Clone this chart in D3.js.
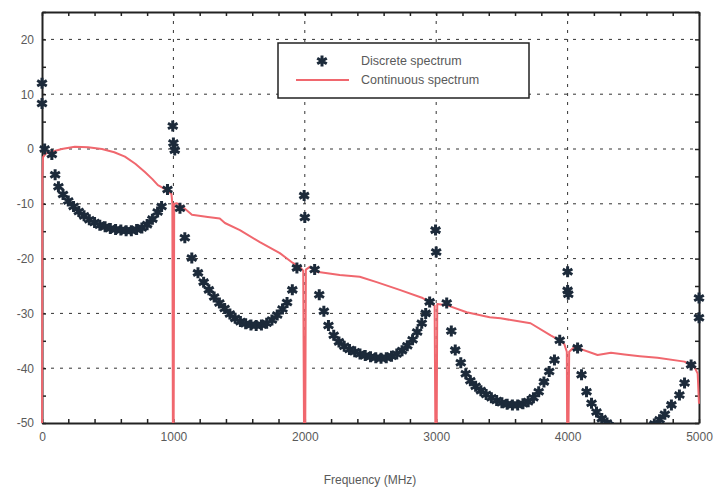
<!DOCTYPE html>
<html>
<head>
<meta charset="utf-8">
<script src="https://cdn.jsdelivr.net/npm/d3@7"></script>
<style>
  body { margin: 0; background: #fff; }
  text { font-family: "Liberation Sans", Arial, sans-serif; }
</style>
</head>
<body>
<div id="chart"></div>
<script>
// discrete spectrum (star markers)
const discreteFreq = [
  0, 0, 20, 75, 100, 125, 160, 200, 240, 280, 320, 360, 400, 440, 480, 520, 560, 600, 640, 680,
  720, 760, 800, 840, 880, 910, 955, 995, 1000, 1010,
  1050, 1087, 1140, 1187, 1230, 1270, 1310, 1350, 1390, 1430, 1470, 1510, 1550, 1590, 1630, 1670,
  1710, 1750, 1790, 1830, 1865, 1905, 1940, 1995, 2000,
  2075, 2110, 2145, 2180, 2220, 2260, 2300, 2340, 2380, 2420, 2460, 2500, 2540, 2580, 2620, 2660,
  2700, 2740, 2780, 2820, 2855, 2890, 2920, 2950, 2995, 3000,
  3080, 3115, 3145, 3187, 3225, 3260, 3300, 3340, 3380, 3420, 3460, 3500, 3540, 3580, 3620, 3660,
  3700, 3740, 3780, 3820, 3860, 3900, 3940, 4000, 4000, 4005,
  4076, 4106, 4144, 4182, 4220, 4260, 4300, 4340, 4380, 4420, 4460, 4500, 4540, 4580, 4620, 4660,
  4700, 4740, 4790, 4851, 4890, 4940, 5000, 5000
];
const discreteLevel = [
  12, 8.3, 0, -1, -4.7, -6.9, -8.3, -9.5, -10.5, -11.4, -12.2, -12.9, -13.4, -13.9, -14.2, -14.5, -14.7, -14.8, -14.9, -14.9,
  -14.7, -14.4, -13.8, -12.8, -11.5, -10.5, -7.4, 4.2, 1.1, -0.2,
  -10.8, -16.2, -19.9, -22.6, -24.3, -25.7, -27, -28.1, -29.1, -30.1, -30.9, -31.5, -31.9, -32.1, -32.2, -32.1,
  -31.8, -31.2, -30.3, -29.2, -28, -25.7, -21.7, -8.5, -12.5,
  -22, -26.6, -29.6, -32.2, -34, -35.2, -36, -36.6, -37, -37.4, -37.7, -37.9, -38.1, -38.2, -38.1, -37.8,
  -37.4, -36.8, -35.9, -34.8, -33.4, -31.8, -30, -27.9, -14.8, -18.8,
  -28.1, -33.2, -36.7, -39, -41, -42.3, -43.3, -44.1, -44.8, -45.4, -45.9, -46.3, -46.6, -46.7, -46.7, -46.5,
  -46.1, -45.4, -44.3, -42.5, -40.6, -38.5, -34.9, -22.4, -25.8, -26.5,
  -36.3, -41.2, -44.3, -46.4, -48, -49.2, -50, -50.8, -51.4, -51.8, -52.1, -52.2, -52, -51.6, -51, -50.2,
  -49.4, -48.4, -46.7, -44.9, -42.7, -39.4, -30.8, -27.2
];

// continuous spectrum (red line)
const contFreq = [
  0, 3, 8, 30, 76, 150, 250, 350, 456, 550, 631, 710, 783, 840, 882, 950, 985, 992, 997, 1001, 1006,
  1027, 1072, 1141, 1262, 1353, 1392, 1506, 1658, 1810, 1909, 1962, 1988, 1996, 2002, 2008,
  2038, 2091, 2266, 2418, 2547, 2722, 2897, 2966, 2988, 2996, 3002, 3008,
  3080, 3232, 3407, 3490, 3718, 3871, 3939, 3975, 3994, 3998, 4003, 4012,
  4053, 4228, 4330, 4433, 4550, 4684, 4890, 4966, 4990, 5000
];
const contLevel = [
  -60, -5, -1.5, -0.8, -0.5, 0, 0.4, 0.3, 0, -0.6, -1.4, -2.7, -4.2, -5.5, -6.6, -7.5, -8.2, -10, -60, -60, -10,
  -9.9, -10.6, -12, -12.4, -12.7, -13.5, -14.8, -17, -19, -20.8, -21.5, -22.2, -60, -60, -22,
  -21.5, -22.4, -23, -23.3, -24.3, -25.7, -27.2, -28.1, -28.6, -60, -60, -28.3,
  -28.5, -29.8, -30.7, -30.9, -31.8, -34, -34.9, -35.6, -37, -60, -60, -37,
  -36.1, -37.6, -37.2, -37.5, -37.8, -38.1, -38.8, -39.8, -41, -46.5
];

const xTicks = d3.range(0, 5001, 200);
const yTicks = d3.range(-50, 26, 5);
const xGrid = [1000, 2000, 3000, 4000];
const yGrid = [-40, -30, -20, -10, 0, 10, 20];
const legendLabels = ["Discrete spectrum", "Continuous spectrum"];

const W = 718, H = 491;
const margin = { top: 12, right: 19, bottom: 68, left: 42 };
const width = W - margin.left - margin.right;
const height = H - margin.top - margin.bottom;

const svg = d3.select("#chart").append("svg")
  .attr("width", W)
  .attr("height", H);

const g = svg.append("g")
  .attr("transform", `translate(${margin.left},${margin.top})`);

const x = d3.scaleLinear().domain([0, 5000]).range([0, width]);
const y = d3.scaleLinear().domain([-50, 25]).range([height, 0]);

// clip so that values below -50 are hidden
svg.append("defs").append("clipPath").attr("id", "plotclip")
  .append("rect")
  .attr("x", -10).attr("y", 0)
  .attr("width", width + 20).attr("height", height);

// grid
g.append("g").selectAll("line").data(xGrid).enter().append("line")
  .attr("x1", d => x(d)).attr("x2", d => x(d))
  .attr("y1", 0).attr("y2", height)
  .attr("stroke", "#333").attr("stroke-width", 1)
  .attr("stroke-dasharray", "3,6");
g.append("g").selectAll("line").data(yGrid).enter().append("line")
  .attr("x1", 0).attr("x2", width)
  .attr("y1", d => y(d)).attr("y2", d => y(d))
  .attr("stroke", "#333").attr("stroke-width", 1)
  .attr("stroke-dasharray", "3,6");

// axes with inward ticks
function styleAxis(sel) {
  sel.select(".domain").attr("stroke", "#222").attr("stroke-width", 2);
  sel.selectAll(".tick line").attr("stroke", "#222").attr("stroke-width", 1.5);
  sel.selectAll("text").attr("fill", "#5a5a5a").style("font-size", "12px");
}

g.append("g").attr("transform", `translate(0,${height})`)
  .call(d3.axisBottom(x).tickValues(xTicks).tickSize(-4).tickSizeOuter(0).tickPadding(9)
    .tickFormat(d => d % 1000 === 0 ? d : ""))
  .call(styleAxis);
g.append("g")
  .call(d3.axisTop(x).tickValues(xTicks).tickSize(-4).tickSizeOuter(0).tickFormat(""))
  .call(styleAxis);
g.append("g")
  .call(d3.axisLeft(y).tickValues(yTicks).tickSize(-4).tickSizeOuter(0).tickPadding(8)
    .tickFormat(d => d % 10 === 0 ? d : ""))
  .call(styleAxis);
g.append("g").attr("transform", `translate(${width},0)`)
  .call(d3.axisRight(y).tickValues(yTicks).tickSize(-4).tickSizeOuter(0).tickFormat(""))
  .call(styleAxis);

const plot = g.append("g").attr("clip-path", "url(#plotclip)");

// continuous spectrum
const line = d3.line()
  .x((d, i) => x(contFreq[i]))
  .y(d => y(d));
plot.append("path")
  .datum(contLevel)
  .attr("d", line)
  .attr("fill", "none")
  .attr("stroke", "#f0676e")
  .attr("stroke-width", 2)
  .attr("stroke-linejoin", "round");

// discrete spectrum
const star = d3.symbol().type(d3.symbolAsterisk).size(85);
plot.append("g").selectAll("path")
  .data(discreteLevel)
  .enter().append("path")
  .attr("d", star)
  .attr("transform", (d, i) => `translate(${x(discreteFreq[i])},${y(d)})`)
  .attr("fill", "none")
  .attr("stroke", "#1c2a3a")
  .attr("stroke-width", 3);

// legend
const legend = svg.append("g").attr("transform", "translate(278,43)");
legend.append("rect")
  .attr("width", 251).attr("height", 55)
  .attr("fill", "#fff").attr("stroke", "#222").attr("stroke-width", 1.5);
legend.append("path")
  .attr("d", star)
  .attr("transform", "translate(44,18)")
  .attr("fill", "none").attr("stroke", "#1c2a3a").attr("stroke-width", 3);
legend.append("line")
  .attr("x1", 18).attr("x2", 71).attr("y1", 37).attr("y2", 37)
  .attr("stroke", "#f0676e").attr("stroke-width", 2);
legend.selectAll("text.lbl").data(legendLabels).enter().append("text")
  .attr("class", "lbl")
  .attr("x", 83)
  .attr("y", (d, i) => 22 + i * 19)
  .attr("fill", "#5a5a5a")
  .style("font-size", "12.5px")
  .text(d => d);

// x axis title
svg.append("text")
  .attr("x", 370).attr("y", 484)
  .attr("text-anchor", "middle")
  .attr("fill", "#5a5a5a")
  .style("font-size", "12px")
  .text("Frequency (MHz)");
</script>
</body>
</html>
